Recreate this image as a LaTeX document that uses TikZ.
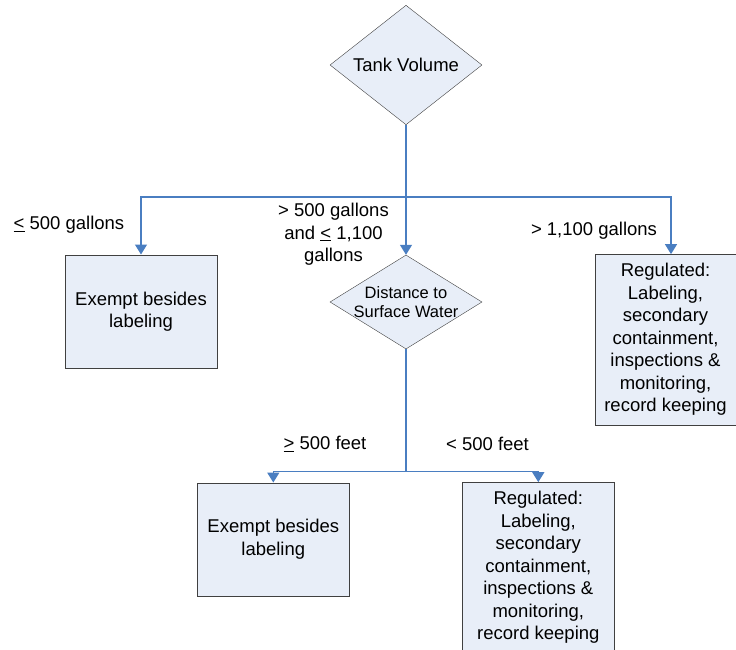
\documentclass[tikz,border=0pt]{standalone}
\usepackage{fontspec}
\setmainfont{Liberation Sans}
\usetikzlibrary{arrows.meta, positioning, shapes.geometric, calc}

\definecolor{boxfill}{RGB}{232,238,248}
\definecolor{linkblue}{RGB}{74,126,193}
\definecolor{edgegray}{RGB}{64,64,64}

\newcommand{\leul}{\underline{<}}
\newcommand{\geul}{\underline{>}}

\begin{document}
\begin{tikzpicture}[
    x=1pt, y=-1pt,
    font=\fontsize{18.5}{22.5}\selectfont,
    box/.style={draw=edgegray, fill=boxfill, align=center, inner sep=0pt},
    dec/.style={draw=edgegray, fill=boxfill, diamond, inner sep=0pt,
                minimum width=152pt, minimum height=114pt},
    conn/.style={draw=linkblue, line width=1.3pt,
                 -{Triangle[length=10pt, width=12pt]}},
    plain/.style={draw=linkblue, line width=1.3pt},
    lbl/.style={align=center, inner sep=0pt},
]
    \useasboundingbox (0,0) rectangle (736,650);

    %==================== TOP DECISION ====================
    \node[dec] (tank) at (406,65) {Tank Volume};
    \coordinate (split) at (406,197);

    %==================== FIRST ROW ====================
    \node[box, minimum width=151.7pt, minimum height=113.6pt] (exleft)
        at (141,311.5) {Exempt besides\\labeling};
    \node[dec, minimum height=94pt] (dist) at (406,302)
        {}; 
    \node[lbl, font=\fontsize{16.5}{19.5}\selectfont] (disttext) at (dist.center)
        {Distance to\\Surface Water};
    \node[box, minimum width=140.4pt, minimum height=170.7pt] (regright)
        at (665.5,339.7)
        {Regulated:\\Labeling,\\secondary\\containment,\\inspections \&\\monitoring,\\record keeping};

    \draw[conn] (tank.south) -- (split) -| (exleft.north);
    \draw[conn] (split) -- (dist.north);
    \draw[conn] (split) -| ([xshift=5.5pt]regright.north);

    %==================== volume labels ====================
    \node[lbl] (lowvol) at (69,225) {\leul{} 500 gallons};
    \node[lbl] (midvol) at (333.5,234.5) {> 500 gallons\\and \leul{} 1,100\\gallons};
    \node[lbl] (highvol) at (594,231) {> 1,100 gallons};

    %==================== SECOND ROW ====================
    \coordinate (fork) at (406,471.7);
    \node[box, minimum width=152pt, minimum height=113.3pt] (exbottom)
        at (273.3,539.4) {Exempt besides\\labeling};
    \node[box, minimum width=151.3pt, minimum height=170.7pt] (regbottom)
        at (538.3,567.7)
        {Regulated:\\Labeling,\\secondary\\containment,\\inspections \&\\monitoring,\\record keeping};

    \draw[plain] (dist.south) -- (fork);
    \draw[conn] (fork) -| (exbottom.north);
    \draw[conn] (fork) -| (regbottom.north);

    %==================== distance labels ====================
    \node[lbl] (far) at (325,444) {\geul{} 500 feet};
    \node[lbl] (near) at (487.5,444) {< 500 feet};

\end{tikzpicture}
\end{document}
